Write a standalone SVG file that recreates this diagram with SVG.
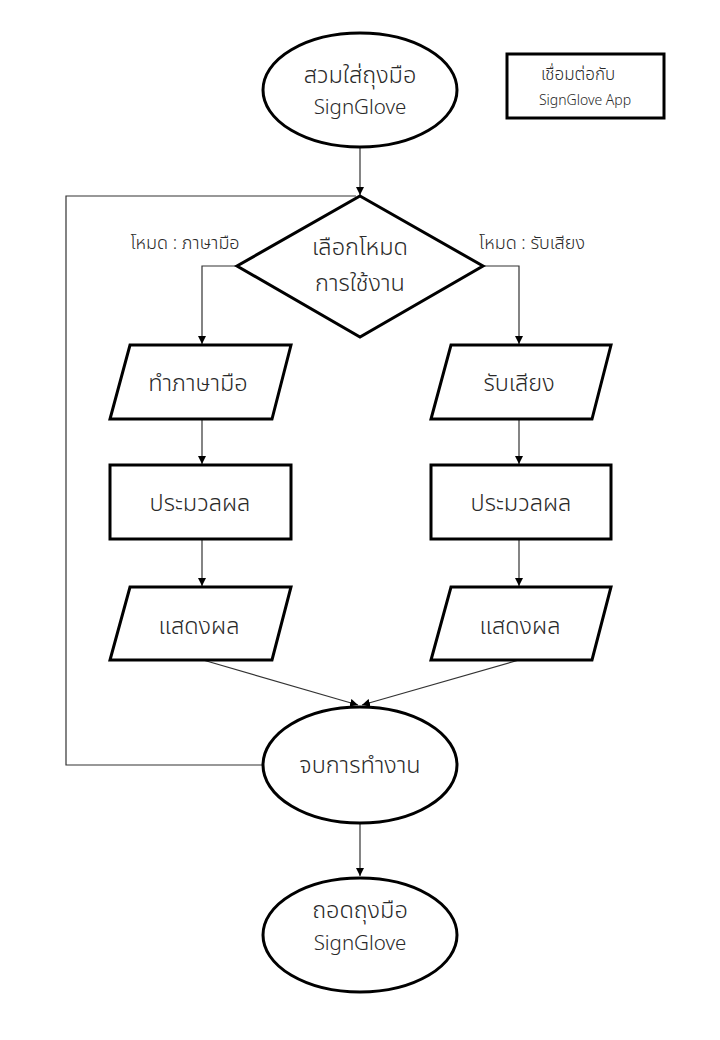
<svg xmlns="http://www.w3.org/2000/svg" width="720" height="1040" viewBox="0 0 720 1040">
<defs>
<marker id="ah" viewBox="0 0 10 10" refX="10" refY="5" markerWidth="8" markerHeight="8" markerUnits="userSpaceOnUse" orient="auto">
<path d="M0,0 L10,5 L0,10 z" fill="#000"/>
</marker>
<style>
.shape{fill:#fff;stroke:#000;stroke-width:3}
.conn{fill:none;stroke:#333;stroke-width:1.2}
text{font-weight:300;fill:#2a2a2a;text-anchor:middle}
.t{font-family:"Noto Sans","Noto Sans Thai","DejaVu Sans",sans-serif;font-size:20.5px}
.th{font-family:"Noto Sans Thai","Noto Sans","DejaVu Sans",sans-serif;font-size:23.5px}
.s{font-family:"Noto Sans","Noto Sans Thai","DejaVu Sans",sans-serif;font-size:14px}
.sth{font-family:"Noto Sans Thai","Noto Sans","DejaVu Sans",sans-serif;font-size:17px}
.l{font-family:"Noto Sans Thai","Noto Sans","DejaVu Sans",sans-serif;font-size:18px}
</style>
</defs>
<rect width="720" height="1040" fill="#fff"/>
<g id="connectors">
<path class="conn" d="M360,148 L360,195" marker-end="url(#ah)"/>
<path class="conn" d="M263,765 L66,765 L66,196 L356,196"/>
<path class="conn" d="M237,266 L202,266 L202,344" marker-end="url(#ah)"/>
<path class="conn" d="M483,266 L519,266 L519,344" marker-end="url(#ah)"/>
<path class="conn" d="M202,420 L202,464" marker-end="url(#ah)"/>
<path class="conn" d="M519,420 L519,464" marker-end="url(#ah)"/>
<path class="conn" d="M202,540 L202,586" marker-end="url(#ah)"/>
<path class="conn" d="M519,540 L519,586" marker-end="url(#ah)"/>
<path class="conn" d="M203,660 L358,705" marker-end="url(#ah)"/>
<path class="conn" d="M519,660 L362,705" marker-end="url(#ah)"/>
<path class="conn" d="M360,824 L360,876" marker-end="url(#ah)"/>
<text class="l" x="185" y="249">โหมด : ภาษามือ</text>
<text class="l" x="532" y="249">โหมด : รับเสียง</text>
</g>
<g id="start">
<ellipse class="shape" cx="360" cy="90" rx="97" ry="57"/>
<text class="th" x="360" y="83">สวมใส่ถุงมือ</text>
<text class="t" x="360" y="114">SignGlove</text>
</g>
<g id="app">
<rect class="shape" x="507" y="54" width="157" height="64"/>
<text class="sth" x="578" y="80">เชื่อมต่อกับ</text>
<text class="s" x="585" y="105">SignGlove App</text>
</g>
<g id="decision">
<polygon class="shape" points="360,196 483,266 360,337 237,266"/>
<text class="th" x="360" y="255">เลือกโหมด</text>
<text class="th" x="360" y="291">การใช้งาน</text>
</g>
<g id="sign-input">
<polygon class="shape" points="130,345 291,345 272,419 110,419"/>
<text class="th" x="198" y="391">ทำภาษามือ</text>
</g>
<g id="voice-input">
<polygon class="shape" points="451,345 611,345 592,419 431,419"/>
<text class="th" x="519" y="391">รับเสียง</text>
</g>
<g id="sign-process">
<rect class="shape" x="110" y="465" width="181" height="74"/>
<text class="th" x="200" y="511">ประมวลผล</text>
</g>
<g id="voice-process">
<rect class="shape" x="431" y="465" width="180" height="74"/>
<text class="th" x="521" y="511">ประมวลผล</text>
</g>
<g id="sign-output">
<polygon class="shape" points="130,587 291,587 272,660 110,660"/>
<text class="th" x="199" y="634">แสดงผล</text>
</g>
<g id="voice-output">
<polygon class="shape" points="451,587 611,587 592,660 431,660"/>
<text class="th" x="520" y="634">แสดงผล</text>
</g>
<g id="end-work">
<ellipse class="shape" cx="360" cy="765" rx="97" ry="58"/>
<text class="th" x="360" y="773">จบการทำงาน</text>
</g>
<g id="remove">
<ellipse class="shape" cx="360" cy="935" rx="97" ry="57"/>
<text class="th" x="360" y="918">ถอดถุงมือ</text>
<text class="t" x="360" y="950">SignGlove</text>
</g>
</svg>
